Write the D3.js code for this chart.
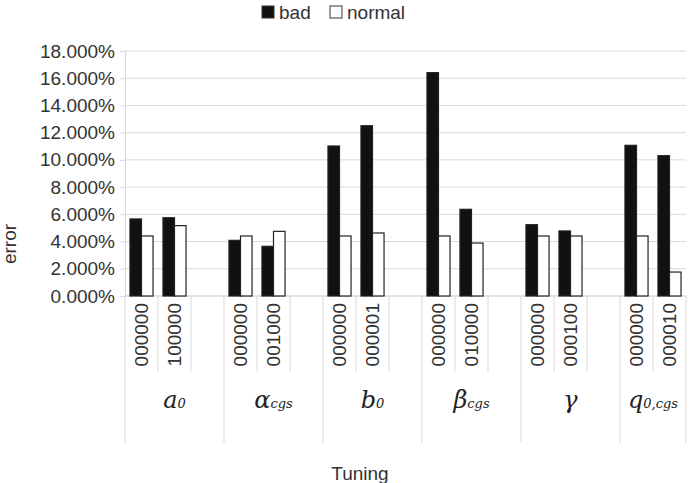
<!DOCTYPE html>
<html>
<head>
<meta charset="utf-8">
<script src="https://cdn.jsdelivr.net/npm/d3@7"></script>
<style>
  body { margin: 0; background: #fff; }
  svg { display: block; }
  text { font-family: "Liberation Sans", Arial, sans-serif; fill: #333; }
</style>
</head>
<body>
<svg width="694" height="483"></svg>
<script>
// data
const groupMain = ["a", "α", "b", "β", "γ", "q"];
const groupSub = ["0", "cgs", "0", "cgs", "", "0,cgs"];
const tuningCodes = [
  ["000000", "100000"],
  ["000000", "001000"],
  ["000000", "000001"],
  ["000000", "010000"],
  ["000000", "000100"],
  ["000000", "000010"]
];
const badValues = [
  [0.0566, 0.0575],
  [0.0409, 0.0365],
  [0.1102, 0.1251],
  [0.1641, 0.0637],
  [0.0524, 0.0478],
  [0.1107, 0.1031]
];
const normalValues = [
  [0.0441, 0.0517],
  [0.0441, 0.0475],
  [0.0441, 0.0463],
  [0.0441, 0.0389],
  [0.0441, 0.0441],
  [0.0441, 0.0176]
];
const seriesNames = ["bad", "normal"];
const yTicks = [0, 0.02, 0.04, 0.06, 0.08, 0.10, 0.12, 0.14, 0.16, 0.18];

const svg = d3.select("svg");
const plotLeft = 125, plotRight = 686, plotTop = 51, plotBottom = 296;

// build slots: two codes per group then an empty spacer (not after the last group)
const slots = [];
tuningCodes.forEach((codes, g) => {
  codes.forEach((c, k) => slots.push({ id: g + "-" + k, g, k, code: c }));
  if (g < tuningCodes.length - 1) slots.push({ id: g + "-gap", g, k: -1, code: "" });
});

const x = d3.scaleBand().domain(slots.map(d => d.id)).range([plotLeft, plotRight]).padding(0);
const xs = d3.scaleBand().domain(seriesNames).range([0, x.bandwidth()]).paddingInner(0).paddingOuter(0.43);
const y = d3.scaleLinear().domain([0, 0.18]).range([plotBottom, plotTop]);

// gridlines
svg.append("g")
  .selectAll("line")
  .data(yTicks)
  .join("line")
  .attr("x1", plotLeft).attr("x2", plotRight)
  .attr("y1", d => y(d)).attr("y2", d => y(d))
  .attr("stroke", "#d9d9d9").attr("stroke-width", 1);

// y axis
const yAxis = svg.append("g")
  .attr("transform", `translate(${plotLeft},0)`)
  .call(d3.axisLeft(y).tickValues(yTicks).tickFormat(d3.format(".3%")).tickSize(5).tickPadding(5));
yAxis.select(".domain").attr("stroke", "#d9d9d9");
yAxis.selectAll(".tick line").attr("stroke", "#d9d9d9");
yAxis.selectAll("text").style("font-size", "19px").attr("fill", "#333");

// category separators
const bounds = slots.map(d => x(d.id)).concat([plotRight]);
svg.append("g")
  .selectAll("line")
  .data(bounds)
  .join("line")
  .attr("x1", d => d).attr("x2", d => d)
  .attr("y1", plotBottom)
  .attr("y2", (d, i) => (i % 3 === 0 || i === bounds.length - 1) ? 443 : 372)
  .attr("stroke", "#d9d9d9");

svg.append("line")
  .attr("x1", plotLeft).attr("x2", plotRight)
  .attr("y1", plotBottom).attr("y2", plotBottom)
  .attr("stroke", "#d9d9d9");

// bars
const barData = [];
slots.filter(d => d.k >= 0).forEach(s => {
  barData.push({ slot: s.id, series: "bad", v: badValues[s.g][s.k] });
  barData.push({ slot: s.id, series: "normal", v: normalValues[s.g][s.k] });
});
svg.append("g")
  .selectAll("rect")
  .data(barData)
  .join("rect")
  .attr("x", d => x(d.slot) + xs(d.series))
  .attr("width", xs.bandwidth())
  .attr("y", d => y(d.v))
  .attr("height", d => y(0) - y(d.v))
  .attr("fill", d => d.series === "bad" ? "#111" : "#fff")
  .attr("stroke", "#222")
  .attr("stroke-width", 1.2);

// rotated tuning code labels
svg.append("g")
  .selectAll("text")
  .data(slots.filter(d => d.k >= 0))
  .join("text")
  .attr("transform", d => `translate(${x(d.id) + x.bandwidth() / 2},303) rotate(-90)`)
  .attr("text-anchor", "end")
  .attr("dy", "0.35em")
  .style("font-size", "19px")
  .text(d => d.code);

// group labels (math italic)
const groupLabels = svg.append("g")
  .selectAll("text")
  .data(groupMain)
  .join("text")
  .attr("x", (d, i) => {
    const first = x(i + "-0");
    const end = i < groupMain.length - 1 ? first + 3 * x.bandwidth() : plotRight;
    return (first + end) / 2;
  })
  .attr("y", 408)
  .attr("text-anchor", "middle")
  .style("font-family", "'DejaVu Serif', 'Liberation Serif', serif")
  .style("font-style", "italic")
  .style("font-size", "24px")
  .style("fill", "#222");
groupLabels.append("tspan").text(d => d);
groupLabels.append("tspan")
  .style("font-size", "13px")
  .text((d, i) => groupSub[i]);

// axis titles
svg.append("text")
  .attr("transform", "translate(16,244) rotate(-90)")
  .attr("text-anchor", "middle")
  .style("font-size", "19px")
  .text("error");
svg.append("text")
  .attr("x", 360).attr("y", 480)
  .attr("text-anchor", "middle")
  .style("font-size", "19px")
  .text("Tuning");

// legend
const legend = svg.append("g");
const legendX = [262, 330];
seriesNames.forEach((s, i) => {
  legend.append("rect")
    .attr("x", legendX[i]).attr("y", 6)
    .attr("width", 12).attr("height", 12)
    .attr("fill", s === "bad" ? "#111" : "#fff")
    .attr("stroke", "#333");
  legend.append("text")
    .attr("x", legendX[i] + 17).attr("y", 19)
    .style("font-size", "19px")
    .text(s);
});
</script>
</body>
</html>
